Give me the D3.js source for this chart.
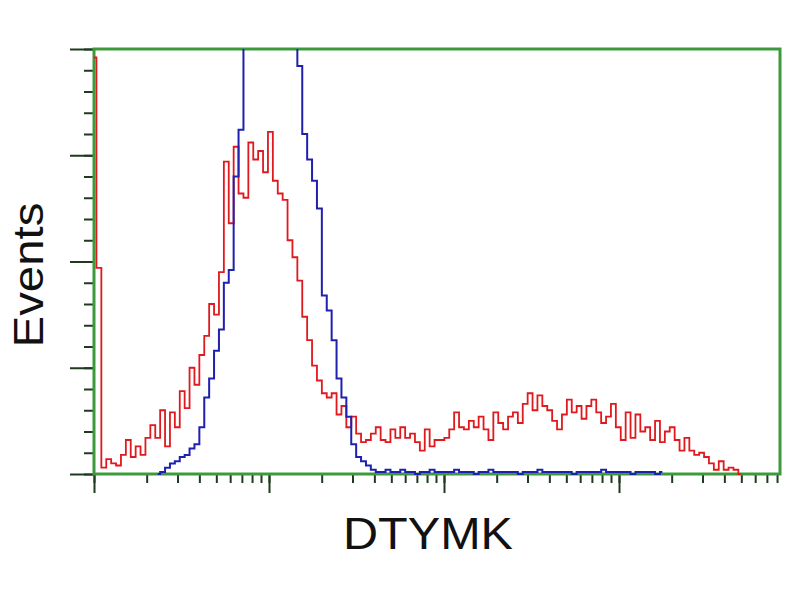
<!DOCTYPE html>
<html>
<head>
<meta charset="utf-8">
<script src="https://cdn.jsdelivr.net/npm/d3@7/dist/d3.min.js"></script>
<style>
  body { margin: 0; background: #fff; }
</style>
</head>
<body>
<div id="chart"></div>
<script>
// Histogram counts per channel (140 log-spaced channels across the axis)
var redCounts = [196, 97, 3, 7, 5, 4, 9, 16, 8, 13,
  9, 17, 23, 17, 30, 13, 29, 22, 39, 31,
  50, 42, 56, 65, 80, 75, 95, 147, 118, 154,
  132, 130, 156, 148, 152, 142, 161, 138, 132, 129,
  110, 102, 91, 74, 63, 51, 44, 38, 36, 38,
  28, 32, 22, 27, 19, 15, 16, 19, 22, 16,
  15, 21, 17, 22, 17, 19, 15, 11, 21, 13,
  16, 16, 17, 21, 29, 22, 21, 25, 22, 27,
  21, 16, 29, 24, 21, 27, 29, 24, 33, 38,
  30, 37, 32, 30, 25, 21, 28, 35, 29, 32,
  26, 32, 35, 29, 24, 27, 33, 22, 16, 29,
  17, 28, 20, 22, 16, 25, 15, 20, 22, 16,
  11, 17, 11, 9, 10, 8, 5, 2, 6, 2,
  3, 2, 0];

var blueCounts = [null, null, null, null, null, null, null, null, null, null,
  null, null, null, 0, 1, 3, 5, 6, 8, 9,
  12, 14, 22, 36, 45, 58, 68, 90, 96, 140,
  162, 230, 290, 340, 370, 385, 380, 350, 310, 270,
  235, 212, 192, 160, 148, 138, 125, 84, 77, 63,
  45, 36, 27, 14, 8, 6, 4, 2, 1, 1,
  2, 1, 1, 2, 1, 1, 0, 1, 1, 2,
  1, 1, 1, 1, 2, 1, 1, 1, 0, 1,
  1, 2, 1, 1, 1, 1, 1, 0, 1, 1,
  1, 2, 1, 1, 1, 1, 1, 1, 0, 1,
  1, 1, 1, 1, 2, 1, 1, 1, 1, 1,
  0, 1, 1, 1, 1, 0, 1];

var xMajorTicks = [1, 10, 100, 1000];
var yMajorTicks = [0, 50, 100, 150, 200];
var yMinorTicks = d3.range(0, 201, 10);
var xLabel = "DTYMK";
var yLabel = "Events";

var width = 800, height = 600;
var plotLeft = 94, plotRight = 780, plotTop = 49, plotBottom = 474;
var nChannels = 140;
var decade = 175;

var svg = d3.select("#chart")
            .append("svg")
            .attr("width", width)
            .attr("height", height);

// scales
var xChan = d3.scaleLinear()
              .domain([0, nChannels])
              .range([plotLeft, plotRight]);

var xLog = d3.scaleLog()
             .domain([1, Math.pow(10, (plotRight - plotLeft) / decade)])
             .range([plotLeft, plotRight]);

var yScale = d3.scaleLinear()
               .domain([0, 200])
               .range([plotBottom, plotTop]);

var tickColor = "#1f3a1f";

// y axis ticks
svg.append("g")
   .attr("transform", "translate(" + plotLeft + ",0)")
   .call(d3.axisLeft(yScale).tickValues(yMinorTicks).tickSize(10).tickFormat(""))
   .call(function(g) { g.select(".domain").remove(); })
   .selectAll("line").attr("stroke", tickColor).attr("stroke-width", 2);

svg.append("g")
   .attr("transform", "translate(" + plotLeft + ",0)")
   .call(d3.axisLeft(yScale).tickValues(yMajorTicks).tickSize(24).tickFormat(""))
   .call(function(g) { g.select(".domain").remove(); })
   .selectAll("line").attr("stroke", tickColor).attr("stroke-width", 2);

// x axis ticks (log)
svg.append("g")
   .attr("transform", "translate(0," + plotBottom + ")")
   .call(d3.axisBottom(xLog).tickValues(xLog.ticks()).tickSize(9).tickFormat(""))
   .call(function(g) { g.select(".domain").remove(); })
   .selectAll("line").attr("stroke", tickColor).attr("stroke-width", 2);

svg.append("g")
   .attr("transform", "translate(0," + plotBottom + ")")
   .call(d3.axisBottom(xLog).tickValues(xMajorTicks).tickSize(19).tickFormat(""))
   .call(function(g) { g.select(".domain").remove(); })
   .selectAll("line").attr("stroke", tickColor).attr("stroke-width", 2);

// frame
svg.append("rect")
   .attr("x", plotLeft)
   .attr("y", plotTop)
   .attr("width", plotRight - plotLeft)
   .attr("height", plotBottom - plotTop)
   .attr("fill", "none")
   .attr("stroke", "#3c9a3c")
   .attr("stroke-width", 3);

svg.append("clipPath")
   .attr("id", "plot-clip")
   .append("rect")
   .attr("x", plotLeft - 2)
   .attr("y", plotTop)
   .attr("width", plotRight - plotLeft + 2)
   .attr("height", plotBottom - plotTop + 1);

var line = d3.line()
             .defined(function(d) { return d != null; })
             .x(function(d, i) { return xChan(i); })
             .y(function(d) { return yScale(d); })
             .curve(d3.curveStep);

var plot = svg.append("g").attr("clip-path", "url(#plot-clip)");

plot.append("path")
    .datum(redCounts)
    .attr("d", line)
    .attr("fill", "none")
    .attr("stroke", "#e0191e")
    .attr("stroke-width", 1.8);

plot.append("path")
    .datum(blueCounts)
    .attr("d", line)
    .attr("fill", "none")
    .attr("stroke", "#2020b0")
    .attr("stroke-width", 2);

// axis labels
svg.append("text")
   .attr("x", 428)
   .attr("y", 549)
   .attr("text-anchor", "middle")
   .attr("font-family", "Liberation Sans, Arial, sans-serif")
   .attr("font-size", 45)
   .attr("textLength", 170)
   .attr("lengthAdjust", "spacingAndGlyphs")
   .attr("fill", "#111")
   .text(xLabel);

svg.append("text")
   .attr("transform", "translate(43,275) rotate(-90)")
   .attr("text-anchor", "middle")
   .attr("font-family", "Liberation Sans, Arial, sans-serif")
   .attr("font-size", 42)
   .attr("textLength", 145)
   .attr("lengthAdjust", "spacingAndGlyphs")
   .attr("fill", "#111")
   .text(yLabel);
</script>
</body>
</html>
